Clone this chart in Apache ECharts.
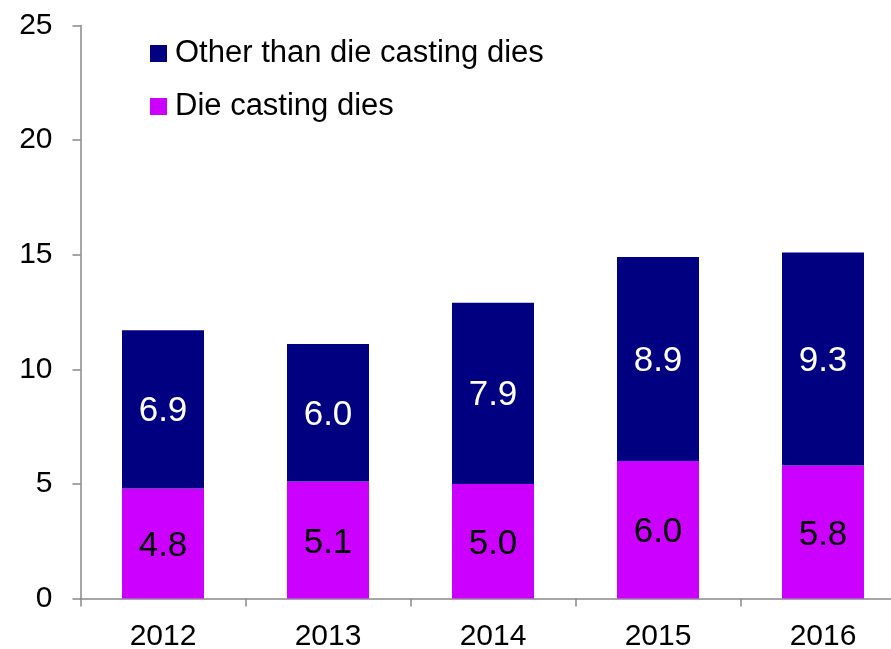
<!DOCTYPE html>
<html>
<head>
<meta charset="utf-8">
<script src="https://cdn.jsdelivr.net/npm/echarts@6/dist/echarts.min.js"></script>
<style>html,body{margin:0;padding:0;background:#fff;overflow:hidden;width:891px;height:649px}#c{width:891px;height:649px}</style>
</head>
<body>
<div id="c"></div>
<script>
const categories = ['2012', '2013', '2014', '2015', '2016'];
const dieCasting = [4.8, 5.1, 5.0, 6.0, 5.8];
const otherThanDieCasting = [6.9, 6.0, 7.9, 8.9, 9.3];
const yTicks = [0, 5, 10, 15, 20, 25];

const FONT = '"Liberation Sans", Arial, sans-serif';
const chart = echarts.init(document.getElementById('c'), null, {renderer: 'canvas'});
chart.setOption({
  animation: false,
  textStyle: {fontFamily: FONT},
  grid: {left: 80.5, top: 25.5, width: 825, height: 573, containLabel: false, outerBoundsMode: 'none'},
  legend: {
    orient: 'vertical', left: 150, top: 38, padding: 0,
    itemWidth: 17, itemHeight: 17, itemGap: 22,
    icon: 'rect',
    data: ['Other than die casting dies', 'Die casting dies'],
    textStyle: {fontFamily: FONT, fontSize: 31, color: '#000', padding: [0, 0, 0, 3]}
  },
  xAxis: {
    type: 'category', data: categories,
    axisLine: {lineStyle: {color: '#898989', width: 1.5}},
    axisTick: {show: true, length: 8, lineStyle: {color: '#898989', width: 1.5}},
    axisLabel: {fontFamily: FONT, fontSize: 30, color: '#000', margin: 23}
  },
  yAxis: {
    type: 'value', min: yTicks[0], max: yTicks[yTicks.length - 1], interval: 5,
    splitLine: {show: false},
    axisLine: {show: true, lineStyle: {color: '#898989', width: 1.5}},
    axisTick: {show: true, length: 8, lineStyle: {color: '#898989', width: 1.5}},
    axisLabel: {fontFamily: FONT, fontSize: 30, color: '#000', margin: 28, padding: [2, 0, 0, 0]}
  },
  series: [
    {
      name: 'Die casting dies', type: 'bar', stack: 'total', data: dieCasting,
      barWidth: 82,
      itemStyle: {color: '#CC00FF'},
      label: {show: true, position: 'inside', offset: [0, 3], fontFamily: FONT, fontSize: 35, color: '#000',
        formatter: p => p.value.toFixed(1)}
    },
    {
      name: 'Other than die casting dies', type: 'bar', stack: 'total', data: otherThanDieCasting,
      barWidth: 82,
      itemStyle: {color: '#000080'},
      label: {show: true, position: 'inside', offset: [0, 2], fontFamily: FONT, fontSize: 35, color: '#fff',
        formatter: p => p.value.toFixed(1)}
    }
  ]
});
</script>
</body>
</html>
